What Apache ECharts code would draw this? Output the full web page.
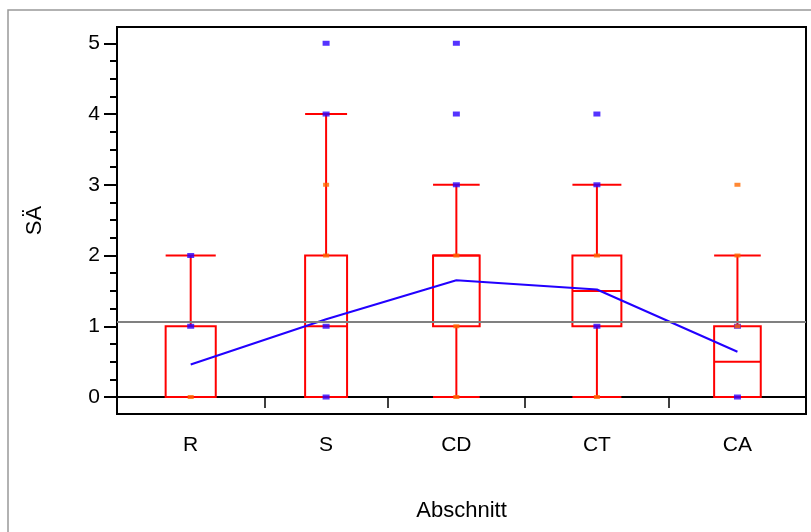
<!DOCTYPE html>
<html>
<head>
<meta charset="utf-8">
<script src="https://cdn.jsdelivr.net/npm/echarts@6/dist/echarts.min.js"></script>
<style>
html,body{margin:0;padding:0;background:#fff;}
#chart{width:811px;height:532px;}
</style>
</head>
<body>
<div id="chart"></div>
<script>
// ---- data ----
const categories = ['R', 'S', 'CD', 'CT', 'CA'];
const groupSizes = [43, 36, 40, 42, 40];
const whiskerLow = [0, 0, 0, 0, 0];
const quartile1 = [0, 0, 1, 1, 0];
const medians = [0, 1, 2, 1.5, 0.5];
const quartile3 = [1, 2, 2, 2, 1];
const whiskerHigh = [2, 4, 3, 3, 2];
const groupMeans = [0.46, 1.10, 1.65, 1.52, 0.64];
const grandMean = 1.07;
const bluePoints = [[2, 1], [5, 4, 1, 0], [5, 4, 3], [4, 3, 1], [1, 0]];
const orangePoints = [[0], [3, 2], [2, 1, 0], [2, 0], [3, 2, 1]];
const yTickLabels = [0, 1, 2, 3, 4, 5];

// ---- derived ----
const bounds = [0];
groupSizes.forEach(n => bounds.push(bounds[bounds.length - 1] + n));
const total = bounds[bounds.length - 1];
const centers = groupSizes.map((n, i) => bounds[i] + n / 2);
const yMinor = [];
yTickLabels.slice(0, -1).forEach(v => { yMinor.push(v + 0.25, v + 0.5, v + 0.75); });

const bluePts = [], orangePts = [];
bluePoints.forEach((arr, i) => arr.forEach(v => bluePts.push([centers[i], v])));
orangePoints.forEach((arr, i) => arr.forEach(v => orangePts.push([centers[i], v])));

const FONT = 'Liberation Sans, Arial, Helvetica, sans-serif';
const chart = echarts.init(document.getElementById('chart'), null, {renderer: 'canvas'});

const yMin = -0.24, yMax = 5.23;

chart.setOption({
  animation: false,
  backgroundColor: '#fff',
  graphic: [{
    type: 'rect',
    shape: {x: 8, y: 10, width: 900, height: 600},
    style: {fill: null, stroke: '#999', lineWidth: 1.5},
    z: 0
  }],
  grid: {left: 117, top: 27, right: 5, bottom: 118, show: true, borderColor: '#000', borderWidth: 2, backgroundColor: 'transparent'},
  xAxis: {
    type: 'value', min: 0, max: total,
    name: 'Abschnitt', nameLocation: 'middle', nameGap: 86,
    nameTextStyle: {fontFamily: FONT, fontSize: 22, color: '#000'},
    axisLine: {show: true, lineStyle: {color: '#000', width: 2}},
    axisTick: {show: true, customValues: bounds.slice(1), length: 11, lineStyle: {color: '#000', width: 1.5}},
    axisLabel: {
      customValues: centers, margin: 21, fontFamily: FONT, fontSize: 21, color: '#000',
      formatter: v => { const k = centers.findIndex(c => Math.abs(c - v) < 1e-6); return k >= 0 ? categories[k] : ''; }
    },
    splitLine: {show: false}
  },
  yAxis: [{
    type: 'value', min: yMin, max: yMax,
    name: 'SÄ', nameLocation: 'middle', nameGap: 71, nameRotate: 90,
    nameTextStyle: {fontFamily: FONT, fontSize: 22, color: '#000'},
    axisLine: {show: true, lineStyle: {color: '#000', width: 2}},
    axisTick: {show: true, customValues: yTickLabels, length: 13, lineStyle: {color: '#000', width: 2}},
    axisLabel: {customValues: yTickLabels, margin: 17, fontFamily: FONT, fontSize: 21, color: '#000'},
    splitLine: {show: false}
  }, {
    type: 'value', min: yMin, max: yMax, position: 'left',
    axisLine: {show: false},
    axisTick: {show: true, customValues: yMinor, length: 7, lineStyle: {color: '#000', width: 2}},
    axisLabel: {show: false},
    splitLine: {show: false}
  }],
  series: [{
    type: 'custom',
    z: 2,
    data: categories.map((c, i) => [i]),
    renderItem: function (params, api) {
      const i = api.value(0);
      const cx = api.coord([centers[i], 0])[0];
      const x0 = api.coord([bounds[i], 0])[0];
      const x1 = api.coord([bounds[i + 1], 0])[0];
      const hw = (x1 - x0) * 0.17;
      const y = v => api.coord([centers[i], v])[1];
      const st = {stroke: '#ff0000', lineWidth: 2, fill: null};
      const ln = (a, b, c, d) => ({type: 'line', shape: {x1: a, y1: b, x2: c, y2: d}, style: st});
      return {
        type: 'group',
        children: [
          ln(cx, y(quartile3[i]), cx, y(whiskerHigh[i])),
          ln(cx, y(quartile1[i]), cx, y(whiskerLow[i])),
          ln(cx - hw, y(whiskerHigh[i]), cx + hw, y(whiskerHigh[i])),
          ln(cx - hw, y(whiskerLow[i]), cx + hw, y(whiskerLow[i])),
          {type: 'rect', shape: {x: cx - hw, y: y(quartile3[i]), width: 2 * hw, height: y(quartile1[i]) - y(quartile3[i])}, style: st},
          ln(cx - hw, y(medians[i]), cx + hw, y(medians[i]))
        ]
      };
    },
    markLine: {
      silent: true, symbol: 'none', label: {show: false},
      lineStyle: {color: '#808080', width: 2, type: 'solid'},
      data: [{yAxis: grandMean}]
    }
  }, {
    type: 'line', z: 3,
    data: centers.map((c, i) => [c, groupMeans[i]]),
    showSymbol: false, symbol: 'none',
    lineStyle: {color: '#2200ff', width: 2}
  }, {
    type: 'scatter', z: 4,
    data: bluePts, symbol: 'rect', symbolSize: [7, 5],
    itemStyle: {color: '#2a00ff'}
  }, {
    type: 'scatter', z: 5,
    data: orangePts, symbol: 'rect', symbolSize: [6, 4],
    itemStyle: {color: '#ff6a00'}
  }]
});
</script>
</body>
</html>
